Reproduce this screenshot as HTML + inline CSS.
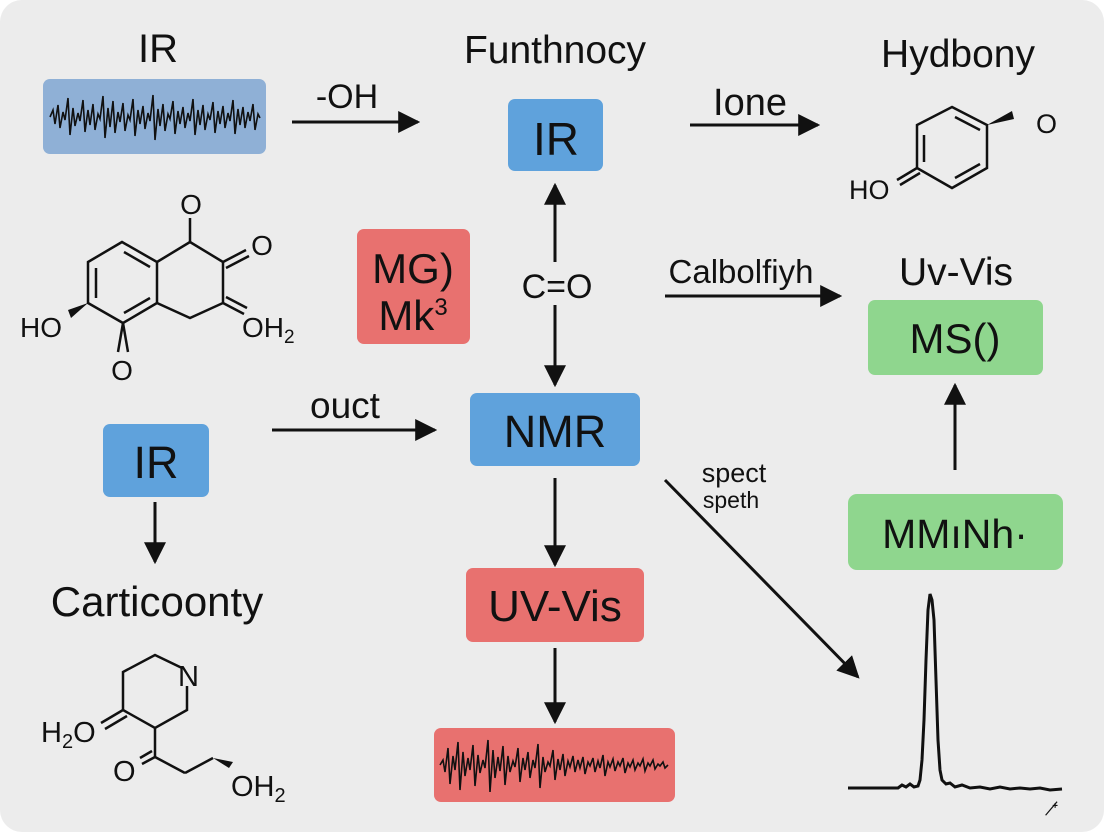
<!DOCTYPE html>
<html><head><meta charset="utf-8"><style>
html,body{margin:0;padding:0;background:#fff}
svg{display:block}
text{font-family:"Liberation Sans",sans-serif;fill:#111}
</style></head><body>
<svg width="1104" height="832" viewBox="0 0 1104 832" xmlns="http://www.w3.org/2000/svg">
<defs>
<marker id="a2" viewBox="0 0 10 10" refX="9" refY="5" markerWidth="22" markerHeight="22" orient="auto" markerUnits="userSpaceOnUse"><path d="M0,0 L10,5 L0,10 z" fill="#111"/></marker>
</defs>
<rect x="0" y="0" width="1104" height="832" rx="22" fill="#ececec"/>

<!-- titles -->
<text x="158" y="62" font-size="40" text-anchor="middle">IR</text>
<text x="555" y="63" font-size="39" text-anchor="middle">Funthnocy</text>
<text x="958" y="67" font-size="39" text-anchor="middle">Hydbony</text>

<!-- blue spectrum -->
<rect x="43" y="79" width="223" height="75" rx="7" fill="#8fb0d6"/>
<polyline fill="none" stroke="#111" stroke-width="1.6" points="50,117 53,110 55,124 58,105 60,128 63,112 65,120 68,98 70,135 73,108 75,126 78,113 80,121 83,100 85,132 88,110 90,125 93,104 95,130 98,114 100,119 103,96 105,138 108,108 110,127 113,101 115,133 118,112 120,122 123,103 125,131 128,115 130,120 133,99 135,136 138,110 140,124 143,106 145,129 148,113 150,121 153,95 155,140 158,109 160,126 163,104 165,131 168,114 170,119 173,101 175,134 178,111 180,124 183,107 185,128 188,113 190,121 193,99 195,135 198,110 200,125 203,105 205,130 208,114 210,120 213,102 215,133 218,111 220,124 223,106 225,128 228,113 230,121 233,100 235,134 238,109 240,125 243,107 245,128 248,112 250,121 253,104 255,130 258,114 260,118"/>

<!-- -OH arrow -->
<text x="347" y="108" font-size="34" text-anchor="middle">-OH</text>
<line x1="292" y1="122" x2="418" y2="122" stroke="#111" stroke-width="3" marker-end="url(#a2)"/>

<rect x="508" y="99" width="95" height="72" rx="7" fill="#5fa2dc"/>
<text x="556" y="155" font-size="46" text-anchor="middle">IR</text>

<text x="750" y="115" font-size="38" text-anchor="middle">Ione</text>
<line x1="690" y1="125" x2="818" y2="125" stroke="#111" stroke-width="3" marker-end="url(#a2)"/>

<!-- hexagon molecule -->
<g stroke="#111" stroke-width="2.5" fill="none">
<polygon points="952,107 987,125 987,168 952,188 917,168 917,125"/>
<line x1="924" y1="135" x2="924" y2="162"/>
<line x1="955" y1="117" x2="980" y2="130"/>
<line x1="955" y1="178" x2="980" y2="164"/>
<line x1="917" y1="168" x2="897" y2="180"/>
<line x1="920" y1="173" x2="900" y2="185"/>
</g>
<path d="M987,125 L1012,111 L1014,119 z" fill="#111"/>
<text x="849" y="199" font-size="27">HO</text>
<text x="1036" y="133" font-size="27">O</text>

<!-- top-left molecule -->
<g stroke="#111" stroke-width="2.5" fill="none">
<polygon points="122,242 157,262 157,303 123,323 88,303 88,262"/>
<polyline points="157,262 190,242 223,262 223,303 190,318 157,303"/>
<line x1="96" y1="268" x2="96" y2="298"/>
<line x1="124" y1="252" x2="150" y2="267"/>
<line x1="124" y1="313" x2="150" y2="298"/>
<line x1="190" y1="242" x2="190" y2="218"/>
<line x1="223" y1="262" x2="246" y2="250"/>
<line x1="226" y1="268" x2="249" y2="256"/>
<line x1="223" y1="303" x2="244" y2="314"/>
<line x1="226" y1="297" x2="247" y2="308"/>
<line x1="123" y1="323" x2="118" y2="352"/>
<line x1="123" y1="323" x2="128" y2="352"/>
</g>
<path d="M88,303 L68,310 L71,318 z" fill="#111"/>
<text x="191" y="214" font-size="28" text-anchor="middle">O</text>
<text x="262" y="255" font-size="28" text-anchor="middle">O</text>
<text x="242" y="337" font-size="28">OH<tspan font-size="19" dy="6">2</tspan></text>
<text x="20" y="337" font-size="28">HO</text>
<text x="122" y="380" font-size="28" text-anchor="middle">O</text>

<!-- MG Mk3 red box -->
<rect x="357" y="229" width="113" height="115" rx="7" fill="#e8716f"/>
<text x="413" y="283" font-size="42" text-anchor="middle">MG)</text>
<text x="413" y="330" font-size="42" text-anchor="middle">Mk<tspan font-size="24" dy="-15">3</tspan></text>

<text x="557" y="298" font-size="34" text-anchor="middle">C=O</text>
<line x1="555" y1="262" x2="555" y2="185" stroke="#111" stroke-width="3" marker-end="url(#a2)"/>
<line x1="555" y1="305" x2="555" y2="385" stroke="#111" stroke-width="3" marker-end="url(#a2)"/>

<text x="741" y="283" font-size="33" text-anchor="middle">Calbolfiyh</text>
<line x1="665" y1="296" x2="840" y2="296" stroke="#111" stroke-width="3" marker-end="url(#a2)"/>

<text x="956" y="285" font-size="39" text-anchor="middle">Uv-Vis</text>
<rect x="868" y="300" width="175" height="75" rx="7" fill="#8fd68e"/>
<text x="955" y="353" font-size="42" text-anchor="middle">MS()</text>
<line x1="955" y1="470" x2="955" y2="385" stroke="#111" stroke-width="3" marker-end="url(#a2)"/>

<rect x="848" y="494" width="215" height="76" rx="9" fill="#8fd68e"/>
<text x="955" y="548" font-size="41" text-anchor="middle">MMıNh·</text>

<text x="345" y="418" font-size="37" text-anchor="middle">ouct</text>
<line x1="272" y1="430" x2="435" y2="430" stroke="#111" stroke-width="3" marker-end="url(#a2)"/>

<rect x="470" y="393" width="170" height="73" rx="7" fill="#5fa2dc"/>
<text x="555" y="447" font-size="45" text-anchor="middle">NMR</text>

<rect x="103" y="424" width="106" height="73" rx="7" fill="#5fa2dc"/>
<text x="156" y="478" font-size="45" text-anchor="middle">IR</text>
<line x1="155" y1="502" x2="155" y2="562" stroke="#111" stroke-width="3" marker-end="url(#a2)"/>
<text x="157" y="616" font-size="42" text-anchor="middle">Carticoonty</text>

<line x1="555" y1="478" x2="555" y2="565" stroke="#111" stroke-width="3" marker-end="url(#a2)"/>
<rect x="466" y="568" width="178" height="74" rx="7" fill="#e8716f"/>
<text x="555" y="621" font-size="44" text-anchor="middle">UV-Vis</text>
<line x1="555" y1="648" x2="555" y2="722" stroke="#111" stroke-width="3" marker-end="url(#a2)"/>

<!-- red spectrum -->
<rect x="434" y="728" width="241" height="74" rx="7" fill="#e8716f"/>
<polyline fill="none" stroke="#111" stroke-width="1.6" points="440,765 443,760 445,772 448,748 450,784 453,756 455,770 458,742 460,790 463,752 465,776 468,758 470,770 473,745 475,786 478,755 480,773 483,760 485,768 488,740 490,792 493,750 495,778 498,757 500,771 503,746 505,785 508,756 510,772 513,761 515,767 518,748 520,782 523,758 525,770 528,752 530,778 533,760 535,768 538,744 540,788 543,757 545,772 548,762 550,766 553,750 555,780 558,759 560,770 563,754 565,776 568,761 570,767 573,756 575,772 578,760 580,768 583,757 585,774 588,762 590,766 593,758 595,772 598,761 600,768 603,755 605,776 608,762 610,767 613,759 615,771 618,762 620,766 623,758 625,773 628,763 630,767 633,760 635,770 638,763 640,766 643,759 645,771 648,763 650,766 653,760 655,769 658,764 660,766 663,762 665,768 668,765"/>

<text x="734" y="482" font-size="27" text-anchor="middle">spect</text>
<text x="731" y="508" font-size="23" text-anchor="middle">speth</text>
<line x1="665" y1="480" x2="858" y2="677" stroke="#111" stroke-width="3" marker-end="url(#a2)"/>

<polyline fill="none" stroke="#111" stroke-width="3" points="848,788 898,788 902,785 906,787 910,784 914,787 918,786 920,780 922,760 924,720 926,660 928,610 930,594 932,600 934,620 936,680 938,740 940,770 942,780 946,784 950,783 955,787 962,785 970,788 980,787 990,789 1000,787 1010,789 1020,788 1030,789 1040,788 1050,790 1062,789"/>
<text x="1055" y="815" font-size="18" text-anchor="middle">ᐩ̸</text>

<!-- bottom-left molecule -->
<g stroke="#111" stroke-width="2.5" fill="none">
<polyline points="182,668 155,655 123,672 123,710 155,728 187,710 187,686"/>
<line x1="123" y1="710" x2="101" y2="723"/>
<line x1="127" y1="716" x2="105" y2="729"/>
<line x1="155" y1="728" x2="155" y2="757"/>
<line x1="155" y1="757" x2="142" y2="764"/>
<line x1="152" y1="751" x2="140" y2="758"/>
<line x1="155" y1="757" x2="185" y2="773"/>
<line x1="185" y1="773" x2="213" y2="758"/>
</g>
<path d="M213,758 L229,768 L233,762 z" fill="#111"/>
<text x="178" y="686" font-size="29">N</text>
<text x="41" y="742" font-size="29">H<tspan font-size="20" dy="6">2</tspan><tspan dy="-6">O</tspan></text>
<text x="113" y="781" font-size="29">O</text>
<text x="231" y="796" font-size="29">OH<tspan font-size="20" dy="6">2</tspan></text>
</svg>
</body></html>
